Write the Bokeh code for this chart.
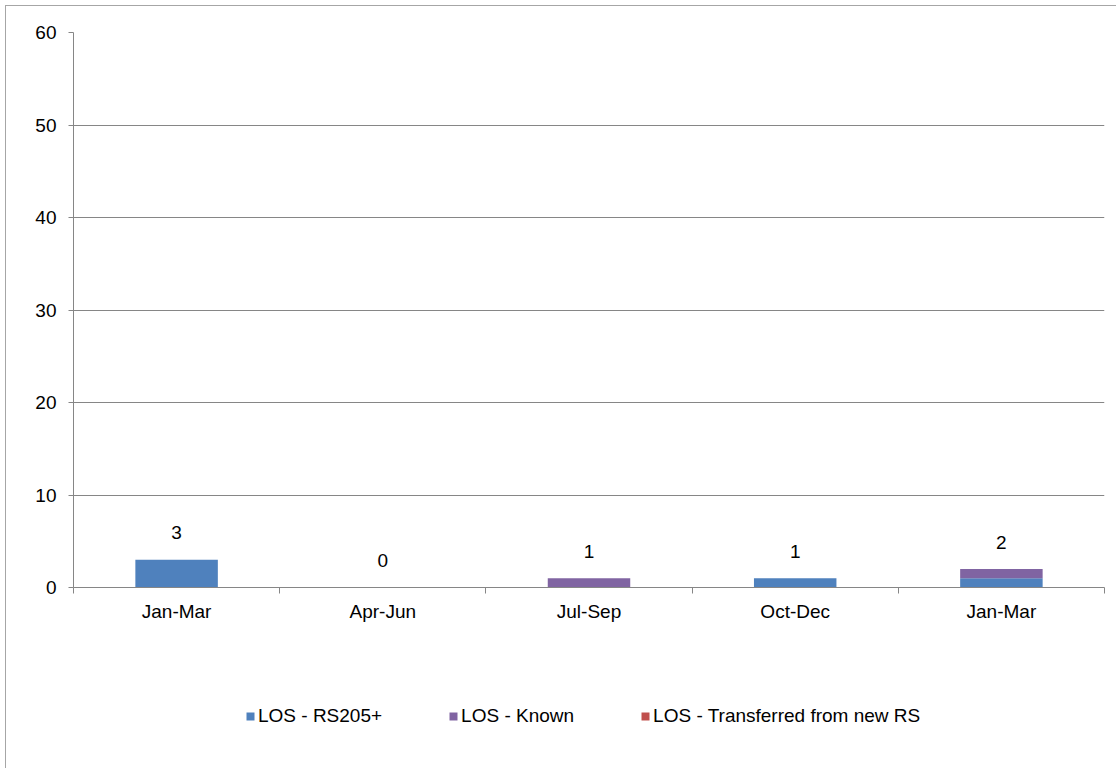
from bokeh.plotting import figure
from bokeh.layouts import column
from bokeh.models import ColumnDataSource, FixedTicker, Legend, LegendItem
from bokeh.core.properties import value
from bokeh.embed import file_html
from bokeh.resources import INLINE

categories = ["Jan-Mar", "Apr-Jun", "Jul-Sep", "Oct-Dec", "Jan-Mar"]
rs205 = [3, 0, 0, 1, 1]
known = [0, 0, 1, 0, 1]
transferred = [0, 0, 0, 0, 0]
series_names = ["LOS - RS205+", "LOS - Known", "LOS - Transferred from new RS"]
colors = ["#4F81BD", "#8064A2", "#C0504D"]
y_ticks = [0, 10, 20, 30, 40, 50, 60]

FONT = "Liberation Sans"
FS = "19px"

x = [i + 0.5 for i in range(len(categories))]
t1 = list(rs205)
t2 = [a + b for a, b in zip(t1, known)]
t3 = [a + b for a, b in zip(t2, transferred)]
totals = t3

src = ColumnDataSource(dict(x=x, z=[0] * len(x), t1=t1, t2=t2, t3=t3,
                            tot=totals, lab=[str(v) for v in totals]))

p = figure(width=1110, height=632, x_range=(0, len(categories)), y_range=(0, 60),
           output_backend="svg", toolbar_location=None,
           min_border_left=67, min_border_right=12, min_border_top=26, min_border_bottom=51)
p.outline_line_color = None
p.background_fill_color = "white"
p.border_fill_color = "white"

p.vbar(x="x", bottom="z", top="t1", width=0.4, fill_color=colors[0], line_color=None, source=src)
p.vbar(x="x", bottom="t1", top="t2", width=0.4, fill_color=colors[1], line_color=None, source=src)
p.vbar(x="x", bottom="t2", top="t3", width=0.4, fill_color=colors[2], line_color=None, source=src)

p.text(x="x", y="tot", text="lab", source=src, text_align="center", text_baseline="middle",
       y_offset=-27, text_font=value(FONT), text_font_size=FS, text_color="black")

# y axis
p.yaxis.ticker = FixedTicker(ticks=y_ticks)
p.yaxis.axis_line_color = "#868686"
p.yaxis.major_tick_line_color = "#868686"
p.yaxis.major_tick_in = 0
p.yaxis.major_tick_out = 5
p.yaxis.minor_tick_line_color = None
p.yaxis.major_label_standoff = 12
p.yaxis.major_label_text_font = FONT
p.yaxis.major_label_text_font_size = FS
p.yaxis.major_label_text_color = "black"

# x axis
p.xaxis.ticker = FixedTicker(ticks=x, minor_ticks=list(range(len(categories) + 1)))
p.xaxis.major_label_overrides = {xx: c for xx, c in zip(x, categories)}
p.xaxis.axis_line_color = "#868686"
p.xaxis.major_tick_line_color = None
p.xaxis.major_tick_in = 0
p.xaxis.major_tick_out = 0
p.xaxis.minor_tick_line_color = "#868686"
p.xaxis.minor_tick_in = 0
p.xaxis.minor_tick_out = 6
p.xaxis.major_label_standoff = 7
p.xaxis.major_label_text_font = FONT
p.xaxis.major_label_text_font_size = FS
p.xaxis.major_label_text_color = "black"

p.xgrid.grid_line_color = None
p.ygrid.ticker = FixedTicker(ticks=y_ticks)
p.ygrid.grid_line_color = "#868686"

# legend panel: same series drawn off-range (clipped), only their legend swatches show
p2 = figure(width=1110, height=130, x_range=(0, len(categories)), y_range=(1000, 1001),
            output_backend="svg", toolbar_location=None,
            x_axis_location=None, y_axis_location=None,
            min_border_left=67, min_border_right=12, min_border_top=28, min_border_bottom=0)
p2.outline_line_color = None
p2.grid.visible = False
l1 = p2.vbar(x="x", bottom="z", top="t1", width=0.4, fill_color=colors[0], line_color=None, source=src)
l2 = p2.vbar(x="x", bottom="t1", top="t2", width=0.4, fill_color=colors[1], line_color=None, source=src)
l3 = p2.vbar(x="x", bottom="t2", top="t3", width=0.4, fill_color=colors[2], line_color=None, source=src)

legend = Legend(items=[LegendItem(label=n, renderers=[r]) for n, r in zip(series_names, [l1, l2, l3])],
                orientation="horizontal", location=(172, 41),
                label_text_font=FONT, label_text_font_size=FS, label_text_color="black",
                glyph_width=10, glyph_height=10, label_standoff=3, spacing=66,
                padding=0, margin=0, border_line_color=None, background_fill_alpha=0,
                label_height=20)
p2.add_layout(legend, "center")

layout = column(p, p2, spacing=0)
layout.margin = (5, 0, 0, 5)
layout.styles = {"border-top": "1px solid #a6a6a6", "border-left": "1px solid #a6a6a6"}

open("out.html", "w").write(file_html(layout, INLINE))
